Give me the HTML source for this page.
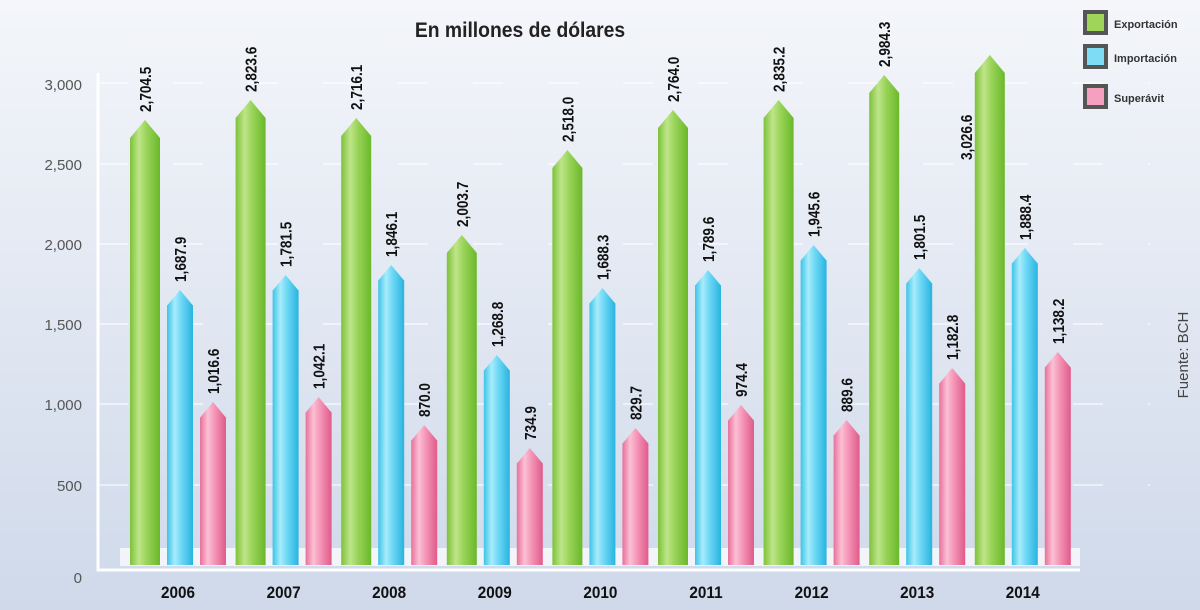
<!DOCTYPE html>
<html><head><meta charset="utf-8"><style>
html,body{margin:0;padding:0;width:1200px;height:610px;overflow:hidden;}
</style></head><body>
<svg width="1200" height="610" viewBox="0 0 1200 610" xmlns="http://www.w3.org/2000/svg" font-family="Liberation Sans, sans-serif">
<defs>
<linearGradient id="bg" x1="0" y1="0" x2="0" y2="1"><stop offset="0" stop-color="#f4f6fa"/><stop offset="1" stop-color="#cfd9ea"/></linearGradient>
<linearGradient id="g" x1="0" x2="1"><stop offset="0" stop-color="#7cc23a"/><stop offset="0.3" stop-color="#bfe58a"/><stop offset="0.55" stop-color="#9ad45a"/><stop offset="1" stop-color="#6ab82a"/></linearGradient>
<linearGradient id="b" x1="0" x2="1"><stop offset="0" stop-color="#3cc4e8"/><stop offset="0.3" stop-color="#a8ecfb"/><stop offset="0.55" stop-color="#6fd8f5"/><stop offset="1" stop-color="#28b4e0"/></linearGradient>
<linearGradient id="p" x1="0" x2="1"><stop offset="0" stop-color="#e8709a"/><stop offset="0.3" stop-color="#fbc0d4"/><stop offset="0.55" stop-color="#f597b8"/><stop offset="1" stop-color="#e05a8a"/></linearGradient>
</defs>
<rect width="1200" height="610" fill="url(#bg)"/>
<g stroke="#ffffff" stroke-width="2" stroke-dasharray="30 45" opacity="0.55">
<line x1="98" y1="83" x2="1150" y2="83"/><line x1="98" y1="164" x2="1150" y2="164"/><line x1="98" y1="244" x2="1150" y2="244"/><line x1="98" y1="324" x2="1150" y2="324"/><line x1="98" y1="404" x2="1150" y2="404"/><line x1="98" y1="485" x2="1150" y2="485"/>
</g>
<rect x="120" y="548" width="960" height="18" fill="#ffffff" opacity="0.7"/>
<polyline points="98,73 98,570 1080,570" fill="none" stroke="#ffffff" stroke-width="3"/>
<g font-size="15" fill="#555" text-anchor="end">
<text x="82" y="90" transform="scale(1 1)">3,000</text><text x="82" y="170">2,500</text><text x="82" y="250">2,000</text><text x="82" y="330">1,500</text><text x="82" y="410">1,000</text><text x="82" y="491">500</text><text x="82" y="583">0</text>
</g>
<text x="520" y="37" font-size="21" font-weight="bold" fill="#222" text-anchor="middle" transform="translate(520 0) scale(0.92 1) translate(-520 0)">En millones de dólares</text>
<text x="1188" y="355" font-size="15" fill="#444" text-anchor="middle" transform="rotate(-90 1188 355)">Fuente: BCH</text>
<g font-size="11" font-weight="bold" fill="#333">
<rect x="1085" y="12" width="21" height="21" fill="#9fd65a" stroke="#555" stroke-width="4"/><text x="1114" y="28">Exportación</text>
<rect x="1085" y="46" width="21" height="21" fill="#7fdcf5" stroke="#555" stroke-width="4"/><text x="1114" y="62">Importación</text>
<rect x="1085" y="86" width="21" height="21" fill="#f4a0be" stroke="#555" stroke-width="4"/><text x="1114" y="102">Superávit</text>
</g>
<g id="bars"></g>
<g id="labels" font-size="16" font-weight="bold" fill="#111"></g>
<g id="years" font-size="17" font-weight="bold" fill="#111" text-anchor="middle"></g>
</svg>
<script>
var d=[["2006",120,290,402,"2,704.5","1,687.9","1,016.6"],["2007",100,275,397,"2,823.6","1,781.5","1,042.1"],["2008",118,265,425,"2,716.1","1,846.1","870.0"],["2009",235,355,448,"2,003.7","1,268.8","734.9"],["2010",150,288,428,"2,518.0","1,688.3","829.7"],["2011",110,270,405,"2,764.0","1,789.6","974.4"],["2012",100,245,420,"2,835.2","1,945.6","889.6"],["2013",75,268,368,"2,984.3","1,801.5","1,182.8"],["2014",55,248,352,"3,026.6","1,888.4","1,138.2"]];
var NS="http://www.w3.org/2000/svg",B=document.getElementById("bars"),L=document.getElementById("labels"),Y=document.getElementById("years");
function el(p,t,a,txt){var e=document.createElementNS(NS,t);for(var k in a)e.setAttribute(k,a[k]);if(txt)e.textContent=txt;p.appendChild(e);return e;}
d.forEach(function(r,i){var x0=130+105.6*i;
 [[0,30,"g",r[1],r[4]],[37,26,"b",r[2],r[5]],[70,26,"p",r[3],r[6]]].forEach(function(s,j){
  var x=x0+s[0],w=s[1],t=s[3],h=w*0.6,base=565;
  el(B,"polygon",{points:x+","+base+" "+x+","+(t+h)+" "+(x+w/2)+","+t+" "+(x+w)+","+(t+h)+" "+(x+w)+","+base,fill:"url(#"+s[2]+")"});
  var cx=x+w/2+6,cy=t-8;
  if(i==8&&j==0){cx=x-3;cy=t+105;}
  el(L,"text",{x:cx,y:cy,transform:"rotate(-90 "+cx+" "+cy+") translate("+cx+" 0) scale(0.85 1) translate("+(-cx)+" 0)"},s[4]);
 });
 el(Y,"text",{x:x0+48,y:598,transform:"translate("+(x0+48)+" 0) scale(0.9 1) translate("+(-(x0+48))+" 0)"},r[0]);
});
</script>
</body></html>
